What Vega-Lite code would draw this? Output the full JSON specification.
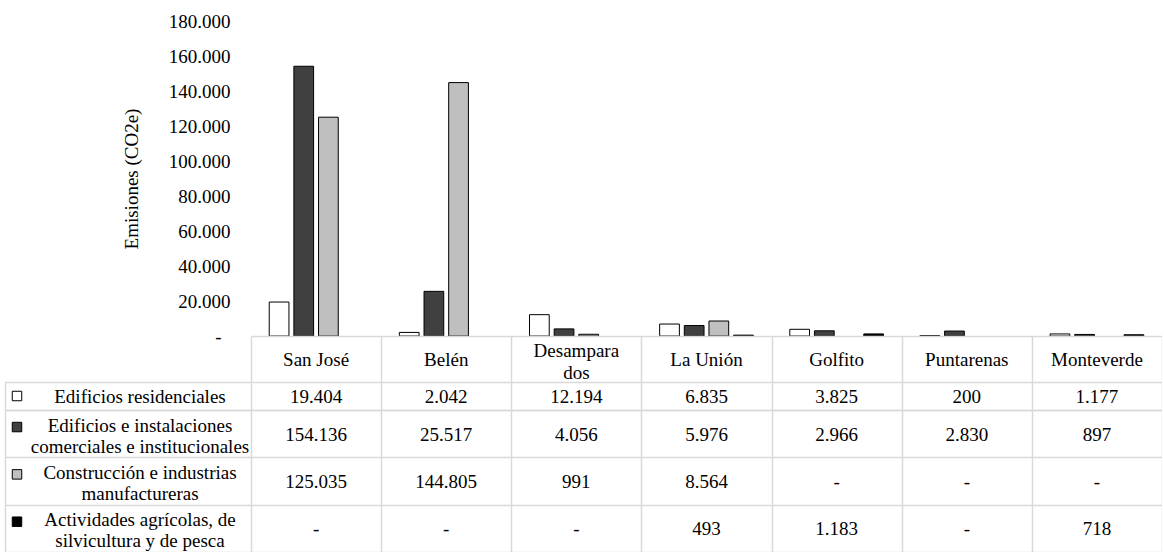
{
  "$schema": "https://vega.github.io/schema/vega-lite/v6.json",
  "padding": {"left": 5, "top": 12, "right": 0, "bottom": 0},
  "config": {
    "font": "Times New Roman, Liberation Serif, serif",
    "view": {"stroke": null},
    "locale": {"number": {"decimal": ",", "thousands": ".", "grouping": [3], "currency": ["", ""]}},
    "axis": {"labelFont": "Times New Roman, Liberation Serif, serif", "titleFont": "Times New Roman, Liberation Serif, serif", "labelColor": "#000", "titleColor": "#000"},
    "text": {"font": "Times New Roman, Liberation Serif, serif"}
  },
  "datasets": {
    "emis": [
      {"municipio": "San José", "serie": "Edificios residenciales", "valor": 19404},
      {"municipio": "San José", "serie": "Edificios e instalaciones comerciales e institucionales", "valor": 154136},
      {"municipio": "San José", "serie": "Construcción e industrias manufactureras", "valor": 125035},
      {"municipio": "San José", "serie": "Actividades agrícolas, de silvicultura y de pesca", "valor": null},
      {"municipio": "Belén", "serie": "Edificios residenciales", "valor": 2042},
      {"municipio": "Belén", "serie": "Edificios e instalaciones comerciales e institucionales", "valor": 25517},
      {"municipio": "Belén", "serie": "Construcción e industrias manufactureras", "valor": 144805},
      {"municipio": "Belén", "serie": "Actividades agrícolas, de silvicultura y de pesca", "valor": null},
      {"municipio": "Desamparados", "serie": "Edificios residenciales", "valor": 12194},
      {"municipio": "Desamparados", "serie": "Edificios e instalaciones comerciales e institucionales", "valor": 4056},
      {"municipio": "Desamparados", "serie": "Construcción e industrias manufactureras", "valor": 991},
      {"municipio": "Desamparados", "serie": "Actividades agrícolas, de silvicultura y de pesca", "valor": null},
      {"municipio": "La Unión", "serie": "Edificios residenciales", "valor": 6835},
      {"municipio": "La Unión", "serie": "Edificios e instalaciones comerciales e institucionales", "valor": 5976},
      {"municipio": "La Unión", "serie": "Construcción e industrias manufactureras", "valor": 8564},
      {"municipio": "La Unión", "serie": "Actividades agrícolas, de silvicultura y de pesca", "valor": 493},
      {"municipio": "Golfito", "serie": "Edificios residenciales", "valor": 3825},
      {"municipio": "Golfito", "serie": "Edificios e instalaciones comerciales e institucionales", "valor": 2966},
      {"municipio": "Golfito", "serie": "Construcción e industrias manufactureras", "valor": null},
      {"municipio": "Golfito", "serie": "Actividades agrícolas, de silvicultura y de pesca", "valor": 1183},
      {"municipio": "Puntarenas", "serie": "Edificios residenciales", "valor": 200},
      {"municipio": "Puntarenas", "serie": "Edificios e instalaciones comerciales e institucionales", "valor": 2830},
      {"municipio": "Puntarenas", "serie": "Construcción e industrias manufactureras", "valor": null},
      {"municipio": "Puntarenas", "serie": "Actividades agrícolas, de silvicultura y de pesca", "valor": null},
      {"municipio": "Monteverde", "serie": "Edificios residenciales", "valor": 1177},
      {"municipio": "Monteverde", "serie": "Edificios e instalaciones comerciales e institucionales", "valor": 897},
      {"municipio": "Monteverde", "serie": "Construcción e industrias manufactureras", "valor": null},
      {"municipio": "Monteverde", "serie": "Actividades agrícolas, de silvicultura y de pesca", "valor": 718}
    ],
    "series": [
      {"serie": "Edificios residenciales", "etiqueta": "Edificios residenciales"},
      {"serie": "Edificios e instalaciones comerciales e institucionales", "etiqueta": "Edificios e instalaciones\ncomerciales e institucionales"},
      {"serie": "Construcción e industrias manufactureras", "etiqueta": "Construcción e industrias\nmanufactureras"},
      {"serie": "Actividades agrícolas, de silvicultura y de pesca", "etiqueta": "Actividades agrícolas, de\nsilvicultura y de pesca"}
    ]
  },
  "columns": 3,
  "spacing": {"row": 0, "column": 0},
  "bounds": "flush",
  "concat": [
    {"width": 24, "height": 315, "data": {"values": [{}]}, "mark": "text", "encoding": {"text": {"value": ""}}},
    {"width": 222, "height": 315, "data": {"values": [{}]}, "mark": "text", "encoding": {"text": {"value": ""}}},
    {
      "width": 911, "height": 315,
      "data": {"name": "emis"},
      "mark": {"type": "bar", "stroke": "#000", "strokeWidth": 1},
      "encoding": {
        "x": {"field": "municipio", "type": "nominal", "scale": {"domain": ["San José", "Belén", "Desamparados", "La Unión", "Golfito", "Puntarenas", "Monteverde"], "paddingInner": 0.28, "paddingOuter": 0.14}, "axis": null},
        "xOffset": {"field": "serie", "type": "nominal", "scale": {"domain": ["Edificios residenciales", "Edificios e instalaciones comerciales e institucionales", "Construcción e industrias manufactureras", "Actividades agrícolas, de silvicultura y de pesca"], "paddingInner": 0.2, "paddingOuter": 0}},
        "y": {"field": "valor", "type": "quantitative", "scale": {"domain": [0, 180000], "nice": false},
          "axis": {"values": [0, 20000, 40000, 60000, 80000, 100000, 120000, 140000, 160000, 180000], "format": ",.0f", "labelExpr": "datum.value === 0 ? '-' : datum.label", "labelFontSize": 19, "labelPadding": {"condition": {"test": "datum.value === 0", "value": 30}, "value": 21}, "ticks": false, "tickSize": 0, "domain": false, "grid": false, "title": "Emisiones  (CO2e)", "titleFontSize": 19, "titleFontWeight": "normal", "titlePadding": 27}},
        "fill": {"field": "serie", "type": "nominal", "scale": {"domain": ["Edificios residenciales", "Edificios e instalaciones comerciales e institucionales", "Construcción e industrias manufactureras", "Actividades agrícolas, de silvicultura y de pesca"], "range": ["#ffffff", "#404040", "#bfbfbf", "#000000"]}, "legend": null}
      }
    },
    {"width": 24, "height": 46, "data": {"values": [{}]}, "mark": "text", "encoding": {"text": {"value": ""}}},
    {"width": 222, "height": 46, "data": {"values": [{}]}, "mark": "text", "encoding": {"text": {"value": ""}}},
    {
      "width": 911, "height": 46,
      "data": {"name": "emis"},
      "transform": [
        {"filter": "datum.serie === 'Edificios residenciales'"},
        {"calculate": "datum.municipio === 'Desamparados' ? 'Desampara\\ndos' : datum.municipio", "as": "encabezado"}
      ],
      "encoding": {
        "x": {"field": "municipio", "type": "nominal", "scale": {"type": "band", "domain": ["San José", "Belén", "Desamparados", "La Unión", "Golfito", "Puntarenas", "Monteverde"], "padding": 0},
          "axis": {"orient": "top", "labels": false, "ticks": false, "domain": true, "domainColor": "#d9d9d9", "domainWidth": 1.5, "grid": true, "gridColor": "#d9d9d9", "gridWidth": 1.5, "tickBand": "extent", "title": null}},
        "text": {"field": "encabezado"}
      },
      "layer": [
        {
          "transform": [{"filter": "datum.municipio !== 'Desamparados'"}],
          "mark": {"type": "text", "fontSize": 19, "baseline": "middle", "dy": 1, "color": "#000"}
        },
        {
          "transform": [{"filter": "datum.municipio === 'Desamparados'"}],
          "mark": {"type": "text", "fontSize": 19, "lineBreak": "\n", "lineHeight": 22, "baseline": "middle", "dy": -8, "color": "#000"}
        }
      ]
    },
    {
      "width": 24, "height": 28,
      "data": {"name": "series"},
      "transform": [{"filter": "datum.serie === 'Edificios residenciales'"}],
      "mark": {"type": "point", "shape": "square", "filled": true, "size": 90, "stroke": "#000", "strokeWidth": 1, "opacity": 1},
      "encoding": {
        "y": {"field": "serie", "type": "nominal", "scale": {"type": "band", "padding": 0},
          "axis": {"labels": false, "ticks": false, "domain": true, "domainColor": "#d9d9d9", "domainWidth": 1.5, "grid": true, "gridColor": "#d9d9d9", "gridWidth": 1.5, "tickBand": "extent", "title": null}},
        "fill": {"field": "serie", "type": "nominal", "scale": {"domain": ["Edificios residenciales", "Edificios e instalaciones comerciales e institucionales", "Construcción e industrias manufactureras", "Actividades agrícolas, de silvicultura y de pesca"], "range": ["#ffffff", "#404040", "#bfbfbf", "#000000"]}, "legend": null}
      }
    },
    {
      "width": 222, "height": 28,
      "data": {"name": "series"},
      "transform": [{"filter": "datum.serie === 'Edificios residenciales'"}],
      "mark": {"type": "text", "fontSize": 19, "baseline": "middle", "dy": 1, "color": "#000"},
      "encoding": {
        "y": {"field": "serie", "type": "nominal", "scale": {"type": "band", "padding": 0},
          "axis": {"labels": false, "ticks": false, "domain": false, "grid": true, "gridColor": "#d9d9d9", "gridWidth": 1.5, "tickBand": "extent", "title": null}},
        "text": {"field": "etiqueta"}
      }
    },
    {
      "width": 911, "height": 28,
      "data": {"name": "emis"},
      "transform": [{"filter": "datum.serie === 'Edificios residenciales'"}],
      "mark": {"type": "text", "fontSize": 19, "baseline": "middle", "dy": 1, "color": "#000"},
      "encoding": {
        "x": {"field": "municipio", "type": "nominal", "scale": {"type": "band", "domain": ["San José", "Belén", "Desamparados", "La Unión", "Golfito", "Puntarenas", "Monteverde"], "padding": 0},
          "axis": {"orient": "top", "labels": false, "ticks": false, "domain": false, "grid": true, "gridColor": "#d9d9d9", "gridWidth": 1.5, "tickBand": "extent", "title": null}},
        "y": {"field": "serie", "type": "nominal", "scale": {"type": "band", "padding": 0},
          "axis": {"labels": false, "ticks": false, "domain": false, "grid": true, "gridColor": "#d9d9d9", "gridWidth": 1.5, "tickBand": "extent", "title": null}},
        "text": {"condition": {"test": "datum.valor == null", "value": "-"}, "field": "valor", "type": "quantitative", "format": ",.0f"}
      }
    },
    {
      "width": 24, "height": 142,
      "data": {"name": "series"},
      "transform": [{"filter": "datum.serie !== 'Edificios residenciales'"}],
      "layer": [
        {
          "mark": {"type": "point", "opacity": 0},
          "encoding": {
            "y": {"field": "serie", "type": "nominal", "scale": {"type": "band", "padding": 0, "domain": ["Edificios e instalaciones comerciales e institucionales", "Construcción e industrias manufactureras", "Actividades agrícolas, de silvicultura y de pesca"]},
              "axis": {"labels": false, "ticks": false, "domain": true, "domainColor": "#d9d9d9", "domainWidth": 1.5, "grid": true, "gridColor": "#d9d9d9", "gridWidth": 1.5, "tickBand": "extent", "title": null}}
          }
        },
        {
          "mark": {"type": "point", "shape": "square", "filled": true, "size": 90, "stroke": "#000", "strokeWidth": 1, "opacity": 1},
          "encoding": {
            "y": {"field": "serie", "type": "nominal", "scale": {"type": "band", "paddingInner": 0.28, "paddingOuter": 0.14, "align": 0, "domain": ["Edificios e instalaciones comerciales e institucionales", "Construcción e industrias manufactureras", "Actividades agrícolas, de silvicultura y de pesca"]}, "axis": null},
            "fill": {"field": "serie", "type": "nominal", "scale": {"domain": ["Edificios residenciales", "Edificios e instalaciones comerciales e institucionales", "Construcción e industrias manufactureras", "Actividades agrícolas, de silvicultura y de pesca"], "range": ["#ffffff", "#404040", "#bfbfbf", "#000000"]}, "legend": null}
          }
        }
      ],
      "resolve": {"scale": {"y": "independent"}}
    },
    {
      "width": 222, "height": 142,
      "data": {"name": "series"},
      "transform": [{"filter": "datum.serie !== 'Edificios residenciales'"}],
      "mark": {"type": "text", "fontSize": 19, "lineBreak": "\n", "lineHeight": 21, "baseline": "middle", "dy": -8, "color": "#000"},
      "encoding": {
        "y": {"field": "serie", "type": "nominal", "scale": {"type": "band", "padding": 0, "domain": ["Edificios e instalaciones comerciales e institucionales", "Construcción e industrias manufactureras", "Actividades agrícolas, de silvicultura y de pesca"]},
          "axis": {"labels": false, "ticks": false, "domain": false, "grid": true, "gridColor": "#d9d9d9", "gridWidth": 1.5, "tickBand": "extent", "title": null}},
        "text": {"field": "etiqueta"}
      }
    },
    {
      "width": 911, "height": 142,
      "data": {"name": "emis"},
      "transform": [{"filter": "datum.serie !== 'Edificios residenciales'"}],
      "mark": {"type": "text", "fontSize": 19, "baseline": "middle", "dy": 1, "color": "#000"},
      "encoding": {
        "x": {"field": "municipio", "type": "nominal", "scale": {"type": "band", "domain": ["San José", "Belén", "Desamparados", "La Unión", "Golfito", "Puntarenas", "Monteverde"], "padding": 0},
          "axis": {"orient": "top", "labels": false, "ticks": false, "domain": false, "grid": true, "gridColor": "#d9d9d9", "gridWidth": 1.5, "tickBand": "extent", "title": null}},
        "y": {"field": "serie", "type": "nominal", "scale": {"type": "band", "padding": 0, "domain": ["Edificios e instalaciones comerciales e institucionales", "Construcción e industrias manufactureras", "Actividades agrícolas, de silvicultura y de pesca"]},
          "axis": {"labels": false, "ticks": false, "domain": false, "grid": true, "gridColor": "#d9d9d9", "gridWidth": 1.5, "tickBand": "extent", "title": null}},
        "text": {"condition": {"test": "datum.valor == null", "value": "-"}, "field": "valor", "type": "quantitative", "format": ",.0f"}
      }
    }
  ]
}
